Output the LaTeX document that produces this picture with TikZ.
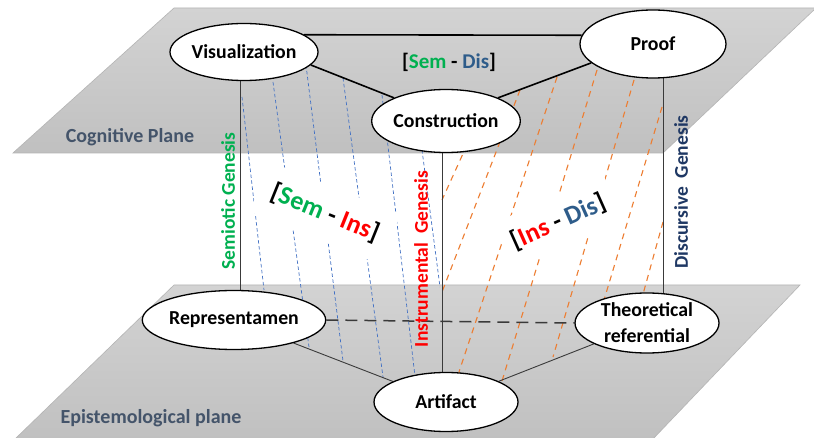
\documentclass[tikz,border=0pt]{standalone}
\usepackage{fontspec}
\setmainfont{Carlito}
\usetikzlibrary{shapes.geometric,calc}
\definecolor{semgreen}{HTML}{00B050}
\definecolor{insred}{HTML}{FF0000}
\definecolor{disblue}{HTML}{2E5C8A}
\definecolor{navyc}{HTML}{1F3864}
\definecolor{planetext}{HTML}{44546A}
\definecolor{hblue}{HTML}{4472C4}
\definecolor{horange}{HTML}{ED7D31}
\definecolor{planetop}{HTML}{D3D3D3}
\definecolor{planebot}{HTML}{C0C0C0}
\definecolor{planeedge}{HTML}{B4B4B4}
\definecolor{linegray}{HTML}{3A3A3A}
\pgfdeclarelayer{back}
\pgfdeclarelayer{mid}
\pgfsetlayers{back,mid,main}
\begin{document}
\begin{tikzpicture}[x=1pt,y=-1pt,
  concept/.style={ellipse,draw=black,line width=1.3pt,fill=white,inner sep=0pt,
    font=\fontsize{19.8}{26}\selectfont\bfseries,align=center},
  plane/.style={draw=planeedge,line width=0.6pt,top color=planetop,bottom color=planebot},
  planelabel/.style={font=\fontsize{20}{22}\selectfont\bfseries,text=planetext},
  genlabel/.style={rotate=90,font=\fontsize{19.5}{21}\selectfont\bfseries},
  genline/.style={draw=linegray,line width=0.8pt},
  topedge/.style={draw=black,line width=1.6pt},
  botedge/.style={draw=linegray,line width=0.9pt},
  dashedge/.style={draw=linegray,line width=1.5pt,dash pattern=on 12pt off 7pt},
  bluehatch/.style={draw=hblue,line width=0.7pt,dash pattern=on 3.5pt off 2.5pt},
  orangehatch/.style={draw=horange,line width=1.1pt,dash pattern=on 6pt off 5pt},
  pairbox/.style={fill=white,inner sep=0pt,font=\fontsize{26}{28}\selectfont\bfseries}]
\useasboundingbox (0,0) rectangle (814,438);

% planes
\begin{pgfonlayer}{back}
\fill[white] (0,0) rectangle (814,438);
\path[plane] (174,8) -- (816,8) -- (663,153) -- (13,153) -- cycle;
\path[plane] (174,285) -- (800,285) -- (652,440) -- (14,440) -- cycle;
\end{pgfonlayer}

% concept nodes
\node[concept,minimum width=146pt,minimum height=57pt] (vis) at (244,52) {Visualization};
\node[concept,minimum width=146pt,minimum height=68pt] (proof) at (653,44) {Proof};
\node[concept,minimum width=144pt,minimum height=63pt] (con) at (446,121) {Construction};
\node[concept,minimum width=144pt,minimum height=59pt] (rep) at (234,320) {Representamen};
\node[concept,minimum width=144pt,minimum height=60pt] (theo) at (647,323) {Theoretical\\referential};
\node[concept,minimum width=144pt,minimum height=59pt] (art) at (446,402) {Artifact};

% plane labels
\node[planelabel] (cogl) at (130,137) {Cognitive Plane};
\node[planelabel] (epil) at (151,418) {Epistemological plane};

% pair labels
\node[font=\fontsize{21}{23}\selectfont\bfseries] (semdis) at (449,62)
  {[\textcolor{semgreen}{Sem} - \textcolor{disblue}{Dis}]};
\node[pairbox,rotate=-22,minimum width=141pt,minimum height=54pt] (semins) at (325,213)
  {[\textcolor{semgreen}{Sem} - \textcolor{insred}{Ins}]};
\node[pairbox,rotate=24,minimum width=121pt,minimum height=50pt] (insdis) at (558,222)
  {[\textcolor{insred}{Ins} - \textcolor{disblue}{Dis}]};

% genesis labels
\node[genlabel,text=semgreen] (semg) at (228,201) {Semiotic Genesis};
\node[genlabel,text=insred] (insg) at (421,259) {Instrumental\ \ Genesis};
\node[genlabel,text=navyc] (disg) at (681,192) {Discursive\ \ Genesis};

\begin{pgfonlayer}{mid}
% hatching blue
\draw[bluehatch] (242,97) -- (264,290);
\draw[bluehatch] (273,82) -- (309,347);
\draw[bluehatch] (306,65) -- (343,361);
\draw[bluehatch] (343,78) -- (383,377);
\draw[bluehatch] (382,95) -- (416,385);
\draw[bluehatch] (422,150) -- (440,287);
% hatching orange
\draw[orangehatch] (476,125) -- (442,200);
\draw[orangehatch] (520,90) -- (442,292);
\draw[orangehatch] (557,77) -- (458,375);
\draw[orangehatch] (597,70) -- (502,381);
\draw[orangehatch] (634,80) -- (553,357);
\draw[orangehatch] (662,107) -- (598,320);
\draw[orangehatch] (663,222) -- (640,305);
% genesis lines
\draw[genline] ([xshift=-4]vis.center) -- ([xshift=6]rep.center);
\draw[genline] ([xshift=-4]con.center) -- ([xshift=-4]art.center);
\draw[genline] ([xshift=10]proof.center) -- ([xshift=16]theo.center);
% edges
\draw[topedge] (vis.16) -- (proof.173);
\draw[topedge] (vis.-11) -- (con.156);
\draw[topedge] (con.24) -- (proof.197);
\draw[botedge] (rep) -- (art);
\draw[botedge] (theo) -- (art);
\draw[dashedge] (rep.east) -- (theo.west);
\end{pgfonlayer}
\end{tikzpicture}
\end{document}
